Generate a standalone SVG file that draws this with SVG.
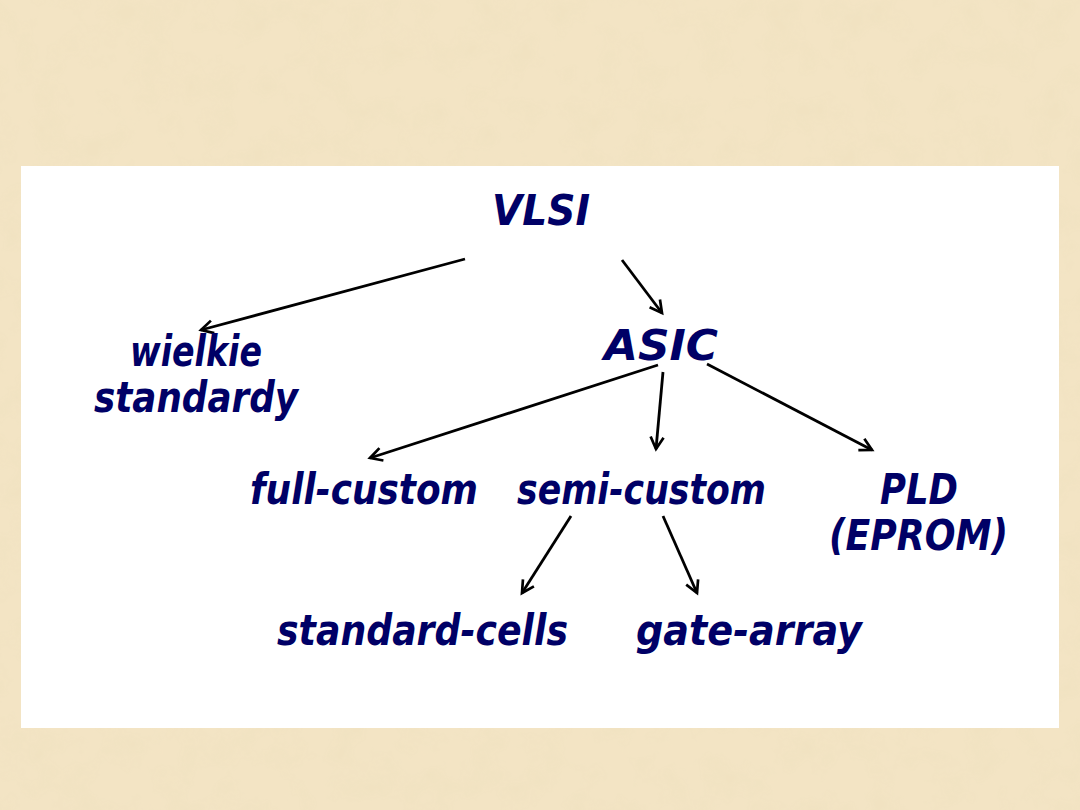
<svg xmlns="http://www.w3.org/2000/svg" width="1080" height="810" viewBox="0 0 1080 810">
  <defs>
    <filter id="parch" x="0" y="0" width="100%" height="100%">
      <feTurbulence type="fractalNoise" baseFrequency="0.03" numOctaves="4" seed="7" result="n"/>
      <feColorMatrix in="n" type="matrix" values="0 0 0 0 0.87  0 0 0 0 0.76  0 0 0 0 0.53  0 0 0 -2.6 1.55" result="c"/>
      <feComposite in="c" in2="SourceGraphic" operator="in"/>
    </filter>
    <marker id="arr" markerWidth="18" markerHeight="18" refX="14" refY="9" orient="auto" markerUnits="userSpaceOnUse">
      <path d="M2,2.5 L14,9 L2,15.5" fill="none" stroke="#000" stroke-width="2.7" stroke-linejoin="miter"/>
    </marker>
    <style>
      .lbl { font-family: "DejaVu Sans", "Liberation Sans", sans-serif; font-weight: bold; font-style: italic; font-size: 42px; fill: #000066; }
      .con line { stroke: #000; stroke-width: 2.8; marker-end: url(#arr); }
    </style>
  </defs>

  <rect width="1080" height="810" fill="#F3E4C4"/>
  <rect width="1080" height="810" fill="#F3E4C4" filter="url(#parch)" opacity="0.6"/>
  <rect x="21" y="166" width="1038" height="562" fill="#FFFFFF"/>

  <g class="con" id="connectors">
    <line x1="465" y1="259" x2="201" y2="330"/>
    <line x1="622" y1="260" x2="662" y2="313"/>
    <line x1="658" y1="365" x2="370" y2="458"/>
    <line x1="663" y1="372" x2="656" y2="449"/>
    <line x1="707" y1="364" x2="872" y2="450"/>
    <line x1="571" y1="516" x2="522" y2="593"/>
    <line x1="663" y1="516" x2="697" y2="593"/>
  </g>

  <g id="vlsi"><text class="lbl" x="492" y="225" textLength="98" lengthAdjust="spacingAndGlyphs">VLSI</text></g>
  <g id="wielkie-standardy">
    <text class="lbl" x="130" y="366" textLength="132" lengthAdjust="spacingAndGlyphs">wielkie</text>
    <text class="lbl" x="94" y="412" textLength="204" lengthAdjust="spacingAndGlyphs">standardy</text>
  </g>
  <g id="asic"><text class="lbl" x="604" y="360" textLength="114" lengthAdjust="spacingAndGlyphs">ASIC</text></g>
  <g id="full-custom"><text class="lbl" x="250" y="504" textLength="228" lengthAdjust="spacingAndGlyphs">full-custom</text></g>
  <g id="semi-custom"><text class="lbl" x="517" y="504" textLength="249" lengthAdjust="spacingAndGlyphs">semi-custom</text></g>
  <g id="pld">
    <text class="lbl" x="880" y="504" textLength="78" lengthAdjust="spacingAndGlyphs">PLD</text>
    <text class="lbl" x="829" y="550" textLength="179" lengthAdjust="spacingAndGlyphs">(EPROM)</text>
  </g>
  <g id="standard-cells"><text class="lbl" x="277" y="645" textLength="291" lengthAdjust="spacingAndGlyphs">standard-cells</text></g>
  <g id="gate-array"><text class="lbl" x="636" y="645" textLength="226" lengthAdjust="spacingAndGlyphs">gate-array</text></g>
</svg>
